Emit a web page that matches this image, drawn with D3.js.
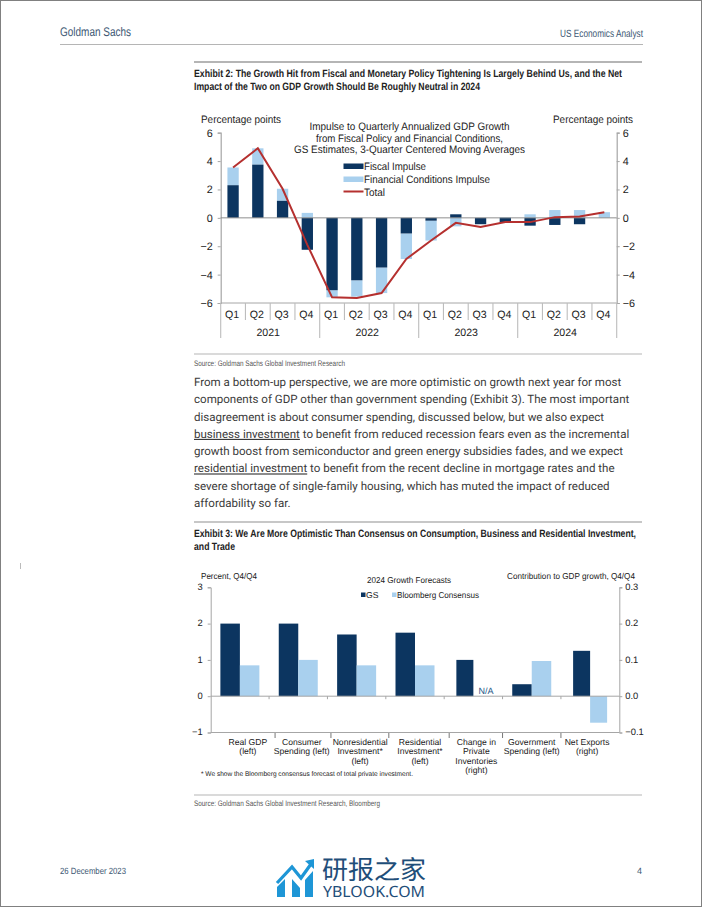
<!DOCTYPE html>
<html><head><meta charset="utf-8">
<script src="https://cdn.jsdelivr.net/npm/d3@7"></script>
<style>
html,body{margin:0;padding:0;background:#fff}
svg{display:block}
text{font-family:"Liberation Sans",Arial,sans-serif;fill:#222;text-rendering:geometricPrecision}
.body{font-family:Roboto,sans-serif;font-size:11.55px;fill:#3a3a3a}
</style></head><body>
<svg id="page" width="702" height="907"></svg>
<script>
// ---- Exhibit 2 data ----
const quarters = ["Q1","Q2","Q3","Q4","Q1","Q2","Q3","Q4","Q1","Q2","Q3","Q4","Q1","Q2","Q3","Q4"];
const years = ["2021","2022","2023","2024"];
const fiscalImpulse = [2.3,3.75,1.2,-2.25,-5.1,-4.4,-3.5,-1.1,-0.2,0.25,-0.45,-0.35,-0.55,-0.5,-0.45,0];
const fciImpulse = [1.25,1.15,0.85,0.35,-0.5,-1.15,-1.8,-1.8,-1.4,-0.6,0,0.05,0.25,0.55,0.55,0.4];
const totalImpulse = [3.55,4.9,2.05,-1.9,-5.6,-5.65,-5.3,-2.9,-1.6,-0.35,-0.65,-0.3,-0.3,0.05,0.1,0.4];
const impulseTicks = [-6,-4,-2,0,2,4,6];
// ---- Exhibit 3 data ----
const forecastCats = [["Real GDP","(left)"],["Consumer","Spending (left)"],["Nonresidential","Investment*","(left)"],["Residential","Investment*","(left)"],["Change in","Private","Inventories","(right)"],["Government","Spending (left)"],["Net Exports","(right)"]];
const forecastSide = ["left","left","left","left","right","left","right"];
const gsForecast = [2.0,2.0,1.7,1.75,0.1,0.33,0.125];
const consensusForecast = [0.85,1.0,0.85,0.85,null,0.97,-0.073];
const leftTicks = [-1,0,1,2,3];
const rightTicks = [-0.1,0,0.1,0.2,0.3];
// ---- Page text ----
const paragraph = [
 [["From a bottom-up perspective, we are more optimistic on growth next year for most",0]],
 [["components of GDP other than government spending (Exhibit 3). The most important",0]],
 [["disagreement is about consumer spending, discussed below, but we also expect",0]],
 [["business investment",1],[" to benefit from reduced recession fears even as the incremental",0]],
 [["growth boost from semiconductor and green energy subsidies fades, and we expect",0]],
 [["residential investment",1],[" to benefit from the recent decline in mortgage rates and the",0]],
 [["severe shortage of single-family housing, which has muted the impact of reduced",0]],
 [["affordability so far.",0]]
];
const NAVY="#0c3560", LIGHT="#a9d0ee", RED="#b5302f", GREY="#a6a6a6", SLATE="#3d5873";
const svg=d3.select("#page");

svg.append("rect").attr("x",.5).attr("y",.5).attr("width",701).attr("height",906).attr("fill","none").attr("stroke","#808080");
function rule(y,x1,x2,w,c){svg.append("line").attr("x1",x1).attr("x2",x2).attr("y1",y).attr("y2",y).attr("stroke",c||"#b5b5b5").attr("stroke-width",w||1);}
// squeeze a text horizontally with a transform so its measured width is `w`
function squeeze(t,x,y,w){const k=w/t.node().getComputedTextLength();
 t.attr("x",0).attr("y",0).attr("transform",`translate(${x},${y}) scale(${k},1)`);return t;}
function txt(s,x,y,size,opt={}){const t=svg.append("text").attr("x",x).attr("y",y).attr("font-size",size).text(s);
 if(opt.anchor)t.attr("text-anchor",opt.anchor); if(opt.fill)t.style("fill",opt.fill); if(opt.weight)t.attr("font-weight",opt.weight);
 if(opt.font)t.style("font-family",opt.font);
 if(opt.fit)squeeze(t,x,y,opt.fit); return t;}
rule(44.5,60,643,1.2);
txt("Goldman Sachs",60,36,12.5,{fill:SLATE,fit:71});
txt("US Economics Analyst",643,37,10.5,{fill:SLATE,anchor:"end",fit:83});
rule(62,194,642,1.8);
txt("Exhibit 2: The Growth Hit from Fiscal and Monetary Policy Tightening Is Largely Behind Us, and the Net",194,77,10.6,{weight:"bold",fit:428});
txt("Impact of the Two on GDP Growth Should Be Roughly Neutral in 2024",194,90,10.6,{weight:"bold",fit:286});
rule(354,194,642,1);
txt("Source: Goldman Sachs Global Investment Research",194,366,8,{fill:"#555",fit:151});
rule(522,194,642,1.4);
txt("Exhibit 3: We Are More Optimistic Than Consensus on Consumption, Business and Residential Investment,",194,537,10.6,{weight:"bold",fit:442});
txt("and Trade",194,550,10.6,{weight:"bold",fit:41});
rule(795,194,642,1);
txt("Source: Goldman Sachs Global Investment Research, Bloomberg",194,806,8,{fill:"#555",fit:186});
txt("26 December 2023",60,874,9,{fill:SLATE,fit:66});
txt("4",642,874,9,{fill:SLATE,anchor:"end"});
svg.append("line").attr("x1",20.5).attr("x2",20.5).attr("y1",563).attr("y2",569).attr("stroke","#bbb");

const lineY=d3.scaleLinear().domain([0,7]).range([386,507]);
paragraph.forEach((runs,i)=>{
 const t=svg.append("text").attr("class","body").attr("x",194).attr("y",lineY(i));
 runs.forEach(r=>t.append("tspan").text(r[0]).attr("text-decoration",r[1]?"underline":null));
});

// ---------- Exhibit 2 chart ----------
(function(){
 const x=d3.scaleBand().domain(d3.range(quarters.length)).range([220.7,616.7]);
 const y=d3.scaleLinear().domain([-6,6]).range([303,132.7]);
 const g=svg.append("g");
 const barW=11.3;
 const stacks=quarters.map((_,i)=>{
  const a=fiscalImpulse[i],b=fciImpulse[i];
  const same=(a>=0)===(b>=0);
  return {i,a,b,bStart:same?a:0,bEnd:same?a+b:b};
 });
 g.selectAll(".fci").data(stacks).join("rect").attr("fill",LIGHT)
  .attr("x",d=>x(d.i)+x.bandwidth()/2-barW/2).attr("width",barW)
  .attr("y",d=>y(Math.max(d.bStart,d.bEnd))).attr("height",d=>Math.abs(y(d.bStart)-y(d.bEnd)));
 g.selectAll(".fis").data(stacks).join("rect").attr("fill",NAVY)
  .attr("x",d=>x(d.i)+x.bandwidth()/2-barW/2).attr("width",barW)
  .attr("y",d=>y(Math.max(0,d.a))).attr("height",d=>Math.abs(y(0)-y(d.a)));
 const la=g.append("g").attr("transform","translate(220.7,0)").call(d3.axisLeft(y).tickValues(impulseTicks).tickSize(3).tickFormat(d3.format("d")));
 const ra=g.append("g").attr("transform","translate(616.7,0)").call(d3.axisRight(y).tickValues(impulseTicks).tickSize(3).tickFormat(d3.format("d")));
 [la,ra].forEach(a=>{a.select(".domain").attr("stroke",GREY).attr("stroke-width",1.2);a.selectAll("line").attr("stroke",GREY);a.selectAll("text").attr("font-size",10.8).style("fill","#222");});
 la.selectAll("text").attr("x",-8);ra.selectAll("text").attr("x",6);
 [0,-6].forEach(v=>g.append("line").attr("x1",220.7).attr("x2",616.7).attr("y1",y(v)).attr("y2",y(v)).attr("stroke",v?GREY:"#8f8f8f").attr("stroke-width",1));
 d3.range(quarters.length+1).forEach(i=>{
  const px=i<quarters.length?x(i):616.7, major=i%4===0;
  g.append("line").attr("x1",px).attr("x2",px).attr("y1",303).attr("y2",major?338:320).attr("stroke","#bdbdbd").attr("stroke-width",1.1);
 });
 quarters.forEach((q,i)=>g.append("text").attr("x",x(i)+x.bandwidth()/2-1).attr("y",318).attr("text-anchor","middle").attr("font-size",10.6).text(q));
 years.forEach((yr,i)=>g.append("text").attr("x",x(i*4)+x.bandwidth()*2-2).attr("y",336).attr("text-anchor","middle").attr("font-size",10.6).text(yr));
 g.append("path").datum(totalImpulse).attr("fill","none").attr("stroke",RED).attr("stroke-width",2)
  .attr("d",d3.line().x((d,i)=>x(i)+x.bandwidth()/2).y(d=>y(d)));
 txt("Percentage points",201,122.5,10.8,{fit:80});
 txt("Percentage points",633,122.5,10.8,{anchor:"end",fit:80});
 [["Impulse to Quarterly Annualized GDP Growth",200],["from Fiscal Policy and Financial Conditions,",187],["GS Estimates, 3-Quarter Centered Moving Averages",231]]
  .forEach((d,i)=>txt(d[0],409.5,130+i*11.5,10.8,{anchor:"middle",fit:d[1]}));
 g.append("rect").attr("x",343.5).attr("y",163.5).attr("width",20).attr("height",5.5).attr("fill",NAVY);
 g.append("rect").attr("x",343.5).attr("y",176.5).attr("width",20).attr("height",5.5).attr("fill",LIGHT);
 g.append("line").attr("x1",343.5).attr("x2",363.5).attr("y1",191.5).attr("y2",191.5).attr("stroke",RED).attr("stroke-width",2);
 [["Fiscal Impulse",170,62],["Financial Conditions Impulse",183,126],["Total",195.5,21]].forEach(d=>txt(d[0],364,d[1],10.8,{fit:d[2]}));
})();

// ---------- Exhibit 3 chart ----------
(function(){
 const x=d3.scaleBand().domain(d3.range(forecastCats.length)).range([210.7,619.3]);
 const yL=d3.scaleLinear().domain([-1,3]).range([732.5,587.3]);
 const yR=d3.scaleLinear().domain([-0.1,0.3]).range([732.5,587.3]);
 const g=svg.append("g");
 const widthFor=i=>forecastSide[i]==="left"?19.5:17;
 const sc=i=>forecastSide[i]==="left"?yL:yR;
 const zero=yL(0);
 const labelShift=[8,3.5,3.5,5,3,0,-3], axisTickShift=[6,3.5,3,5,0,0];
 g.selectAll(".gs").data(gsForecast).join("rect").attr("fill",NAVY)
  .attr("x",(d,i)=>x(i)+x.bandwidth()/2-widthFor(i)).attr("width",(d,i)=>widthFor(i))
  .attr("y",(d,i)=>sc(i)(d)).attr("height",(d,i)=>zero-sc(i)(d));
 g.selectAll(".cons").data(consensusForecast).join("rect").attr("fill",LIGHT)
  .attr("x",(d,i)=>x(i)+x.bandwidth()/2).attr("width",(d,i)=>d==null?0:widthFor(i))
  .attr("y",(d,i)=>d==null?zero:Math.min(sc(i)(d),zero)).attr("height",(d,i)=>d==null?0:Math.abs(zero-sc(i)(d)));
 const la=g.append("g").attr("transform","translate(210.7,0)").call(d3.axisLeft(yL).tickValues(leftTicks).tickSize(3).tickFormat(d3.format("d")));
 const ra=g.append("g").attr("transform","translate(619.3,0)").call(d3.axisRight(yR).tickValues(rightTicks).tickSize(3).tickFormat(d3.format(".1f")));
 [la,ra].forEach(a=>{a.select(".domain").attr("stroke",GREY).attr("stroke-width",1);a.selectAll("line").attr("stroke",GREY);a.selectAll("text").attr("font-size",9.4).attr("dy","0.25em").style("fill","#222");});
 la.selectAll("text").attr("x",-8);ra.selectAll("text").attr("x",6);
 g.append("line").attr("x1",210.7).attr("x2",619.3).attr("y1",zero).attr("y2",zero).attr("stroke",GREY);
 g.append("line").attr("x1",210.7).attr("x2",619.3).attr("y1",yL(-1)).attr("y2",yL(-1)).attr("stroke",GREY);
 d3.range(1,forecastCats.length).forEach(i=>{
  g.append("line").attr("x1",x(i)).attr("x2",x(i)).attr("y1",zero).attr("y2",zero+3).attr("stroke",GREY);
  const bx=x(i)+axisTickShift[i-1];
  g.append("line").attr("x1",bx).attr("x2",bx).attr("y1",733).attr("y2",738).attr("stroke","#777");
 });
 forecastCats.forEach((lines,i)=>lines.forEach((s,j)=>{
  g.append("text").attr("x",x(i)+x.bandwidth()/2+labelShift[i]).attr("y",744.5+j*9.6).attr("text-anchor","middle").attr("font-size",8.6).text(s);
 }));
 txt("N/A",486,694,9,{anchor:"middle",fill:"#2a5a8a"});
 txt("Percent, Q4/Q4",201,579,8.6,{fit:56});
 txt("Contribution to GDP growth, Q4/Q4",635,579,8.6,{anchor:"end",fit:128});
 txt("2024 Growth Forecasts",409,583,8.6,{anchor:"middle",fit:84});
 g.append("rect").attr("x",361).attr("y",592.5).attr("width",4.5).attr("height",4.5).attr("fill",NAVY);
 txt("GS",366,598,8.6);
 g.append("rect").attr("x",392).attr("y",592.5).attr("width",4.5).attr("height",4.5).attr("fill",LIGHT);
 txt("Bloomberg Consensus",397,598,8.6,{fit:82});
 txt("* We show the Bloomberg consensus forecast of total private investment.",201,776,6.8,{fit:212});
})();

// ---------- Watermark logo ----------
(function(){
 const g=svg.append("g"),B="#1e96d6";
 g.append("path").attr("d","M277 897 V887 L285 879 V897 Z M292 897 V879 L300 888 V897 Z M305 897 V880 L313 871 V897 Z").attr("fill",B);
 g.append("path").attr("d","M277 883 L292 867 L301 878 L311 864").attr("fill","none").attr("stroke",B).attr("stroke-width",3.2);
 g.append("path").attr("d","M305 861 L314 859 L314 869 Z").attr("fill",B);
 txt("研报之家",322,879,26,{fill:"#1f4e79",font:"'Noto Sans CJK SC'"});
 txt("YBLOOK.COM",323,896.5,15.5,{fill:"#1f4e79",font:"'Noto Sans'",fit:102});
})();
</script>
</body></html>
